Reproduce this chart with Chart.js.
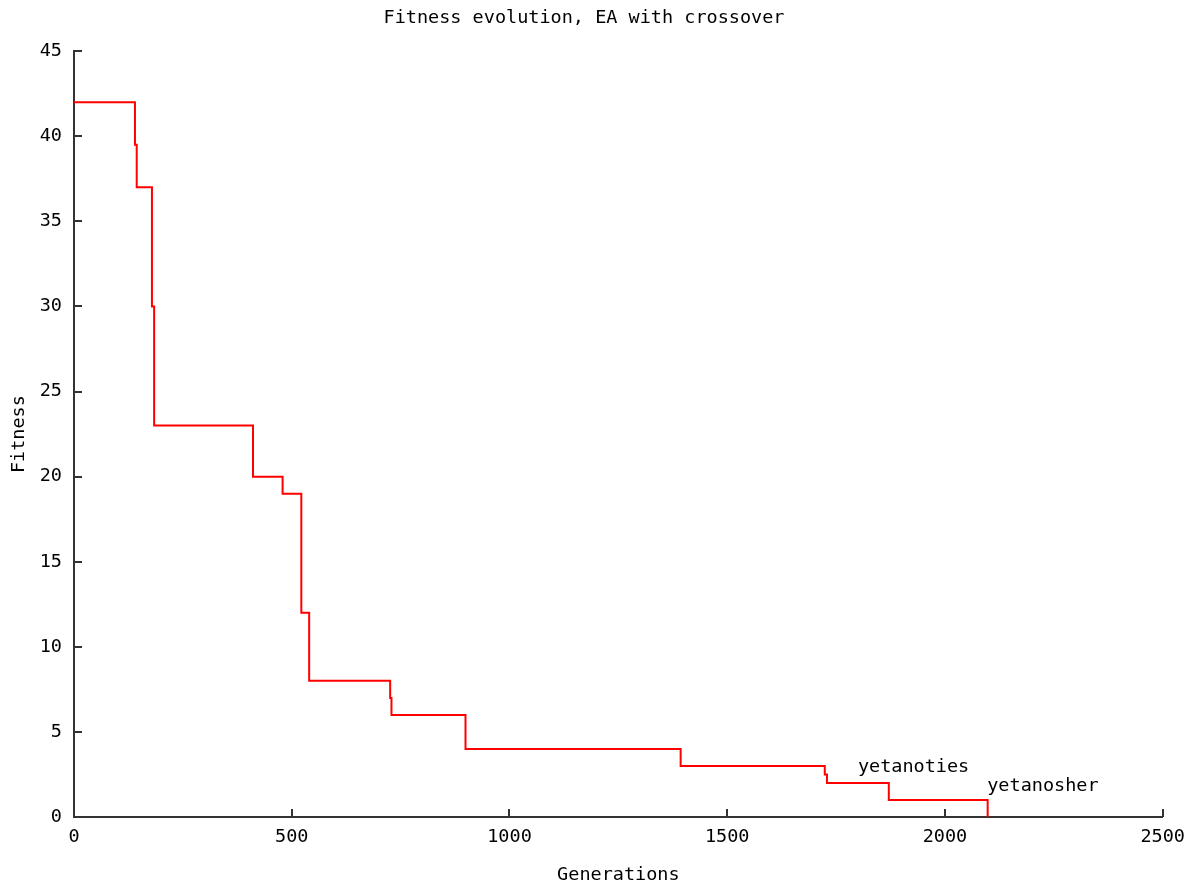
<!DOCTYPE html>
<html>
<head>
<meta charset="utf-8">
<script src="https://cdn.jsdelivr.net/npm/chart.js@4/dist/chart.umd.min.js"></script>
<style>
    body { margin: 0; background: #fff; }
    #wrap { width: 1194px; height: 884px; }
</style>
</head>
<body>
<div id="wrap"><canvas id="lineChart"></canvas></div>
<script>
// step points: generation where fitness changes, and new fitness
var generations = [0, 140, 144, 179, 184, 411, 479, 522, 540, 726, 729, 899, 1393, 1724, 1729, 1871, 2098];
var fitness = [42, 39.5, 37, 30, 23, 20, 19, 12, 8, 7, 6, 4, 3, 2.5, 2, 1, 0];

var labelTexts = ['yetanoties', 'yetanosher'];
var labelGens = [1800, 2097];
var labelFits = [2.9, 1.8];

var xTicks = [0, 500, 1000, 1500, 2000, 2500];
var yTicks = [0, 5, 10, 15, 20, 25, 30, 35, 40, 45];

var fontFam = '"DejaVu Sans Mono", monospace';

function Charts() {
    var ctx = document.getElementById('lineChart').getContext('2d');

    var points = [];
    for (var i = 0; i < generations.length; i++) {
        points.push({ x: generations[i], y: fitness[i] });
    }

    // gnuplot style ticks, pointing into the plot
    var innerTicks = {
        id: 'innerTicks',
        afterDraw: function (chart) {
            var c = chart.ctx;
            var xs = chart.scales.x, ys = chart.scales.y;
            c.save();
            c.strokeStyle = '#333';
            c.lineWidth = 2;
            c.beginPath();
            xTicks.forEach(function (v) {
                var px = Math.round(xs.getPixelForValue(v));
                c.moveTo(px, ys.bottom);
                c.lineTo(px, ys.bottom - 8);
            });
            yTicks.forEach(function (v) {
                var py = Math.round(ys.getPixelForValue(v));
                c.moveTo(xs.left, py);
                c.lineTo(xs.left + 8, py);
            });
            c.stroke();

            c.fillStyle = '#000';
            c.font = '18.5px ' + fontFam;
            c.textAlign = 'left';
            c.textBaseline = 'middle';
            for (var i = 0; i < labelTexts.length; i++) {
                c.fillText(labelTexts[i], xs.getPixelForValue(labelGens[i]), ys.getPixelForValue(labelFits[i]));
            }
            c.restore();
        }
    };

    new Chart(ctx, {
        type: 'line',
        data: {
            datasets: [{
                data: points,
                borderColor: '#ff0000',
                borderWidth: 2,
                pointRadius: 0,
                stepped: true,
                fill: false
            }]
        },
        options: {
            responsive: true,
            maintainAspectRatio: false,
            animation: false,
            layout: { padding: { left: 0, right: 26, top: 0, bottom: 0 } },
            plugins: {
                legend: { display: false },
                tooltip: { enabled: false },
                title: {
                    display: true,
                    text: 'Fitness evolution, EA with crossover',
                    color: '#000',
                    font: { family: fontFam, size: 18.5, weight: 'normal', lineHeight: 1.2 },
                    padding: { top: 7, bottom: 22 }
                }
            },
            scales: {
                x: {
                    type: 'linear',
                    min: 0,
                    max: 2500,
                    afterBuildTicks: function (s) { s.ticks = xTicks.map(function (v) { return { value: v }; }); },
                    afterFit: function (s) { s.height = 67; },
                    ticks: {
                        color: '#000', padding: 9, maxRotation: 0,
                        font: { family: fontFam, size: 18.5 },
                        callback: function (v) { return String(v); }
                    },
                    grid: { drawOnChartArea: false, drawTicks: false },
                    border: { display: true, color: '#333', width: 2 },
                    title: {
                        display: true,
                        text: 'Generations',
                        color: '#000',
                        font: { family: fontFam, size: 18.5, lineHeight: 1 },
                        padding: { top: 0, bottom: 0 }
                    }
                },
                y: {
                    min: 0,
                    max: 45,
                    afterBuildTicks: function (s) { s.ticks = yTicks.map(function (v) { return { value: v }; }); },
                    afterFit: function (s) { s.width = 74; },
                    ticks: {
                        color: '#000', padding: 12,
                        font: { family: fontFam, size: 18.5 },
                        callback: function (v) { return String(v); }
                    },
                    grid: { drawOnChartArea: false, drawTicks: false },
                    border: { display: true, color: '#333', width: 2 },
                    title: {
                        display: true,
                        text: 'Fitness',
                        color: '#000',
                        font: { family: fontFam, size: 18.5, lineHeight: 1 },
                        padding: { top: 10, bottom: 0 }
                    }
                }
            }
        },
        plugins: [innerTicks]
    });
}

Charts();
</script>
</body>
</html>
